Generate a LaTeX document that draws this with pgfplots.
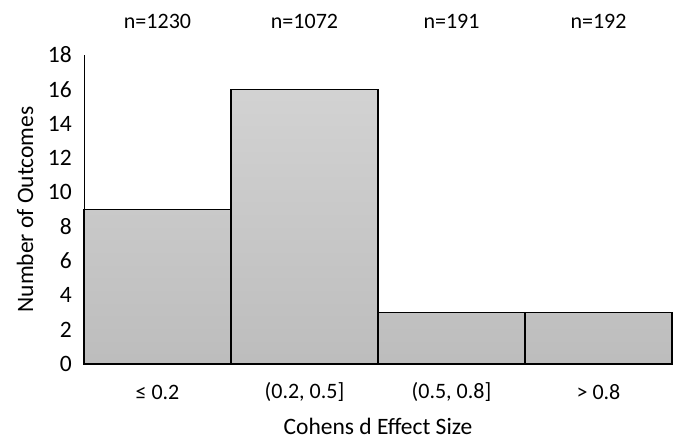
\documentclass[border=0pt]{standalone}
\usepackage{fontspec}
\setmainfont{Carlito}
\usepackage{pgfplots}
\pgfplotsset{compat=1.18}

\pgfplotstableread{
x  count n
0  9     1230
1  16    1072
2  3     191
3  3     192
}\effects

\begin{document}
\fontsize{22bp}{26bp}\selectfont
\begin{tikzpicture}
  \path[use as bounding box] (-84bp,-77bp) rectangle (597bp,364bp);
  \begin{axis}[
    scale only axis,
    width=588bp, height=309bp,
    xmin=-0.5, xmax=3.5,
    ymin=0, ymax=18,
    ytick={0,2,...,18},
    xtick=data,
    xticklabels={{≤ 0.2}, {(0.2, 0.5]}, {(0.5, 0.8]}, {> 0.8}},
    axis lines*=left,
    axis line style={black, line width=1pt},
    major tick length=0pt,
    tick style={draw=none},
    yticklabel style={anchor=east, inner sep=0pt, xshift=-12bp,
      font=\fontsize{23.5bp}{27bp}\selectfont},
    xticklabel style={anchor=center, inner sep=0pt, yshift=-28bp},
    /pgf/number format/assume math mode=true,
    ylabel={Number of Outcomes},
    ylabel style={at={(axis description cs:-0.1003,0.5)}, anchor=center,
      inner sep=0pt, font=\fontsize{23.5bp}{27bp}\selectfont},
    xlabel={Cohens d Effect Size},
    xlabel style={at={(axis description cs:0.5,-0.229)}, anchor=base,
      inner sep=0pt, font=\fontsize{23.5bp}{27bp}\selectfont},
    clip=false,
  ]
    \addplot[ybar, bar width=1, draw=black, line width=1.3pt,
      top color=gray!35, bottom color=gray!52]
      table[x=x, y=count] {\effects};
    \node[anchor=base] at (axis cs:0,18) [yshift=26bp] {n=1230};
    \node[anchor=base] at (axis cs:1,18) [yshift=26bp] {n=1072};
    \node[anchor=base] at (axis cs:2,18) [yshift=26bp] {n=191};
    \node[anchor=base] at (axis cs:3,18) [yshift=26bp] {n=192};
  \end{axis}
\end{tikzpicture}
\end{document}
